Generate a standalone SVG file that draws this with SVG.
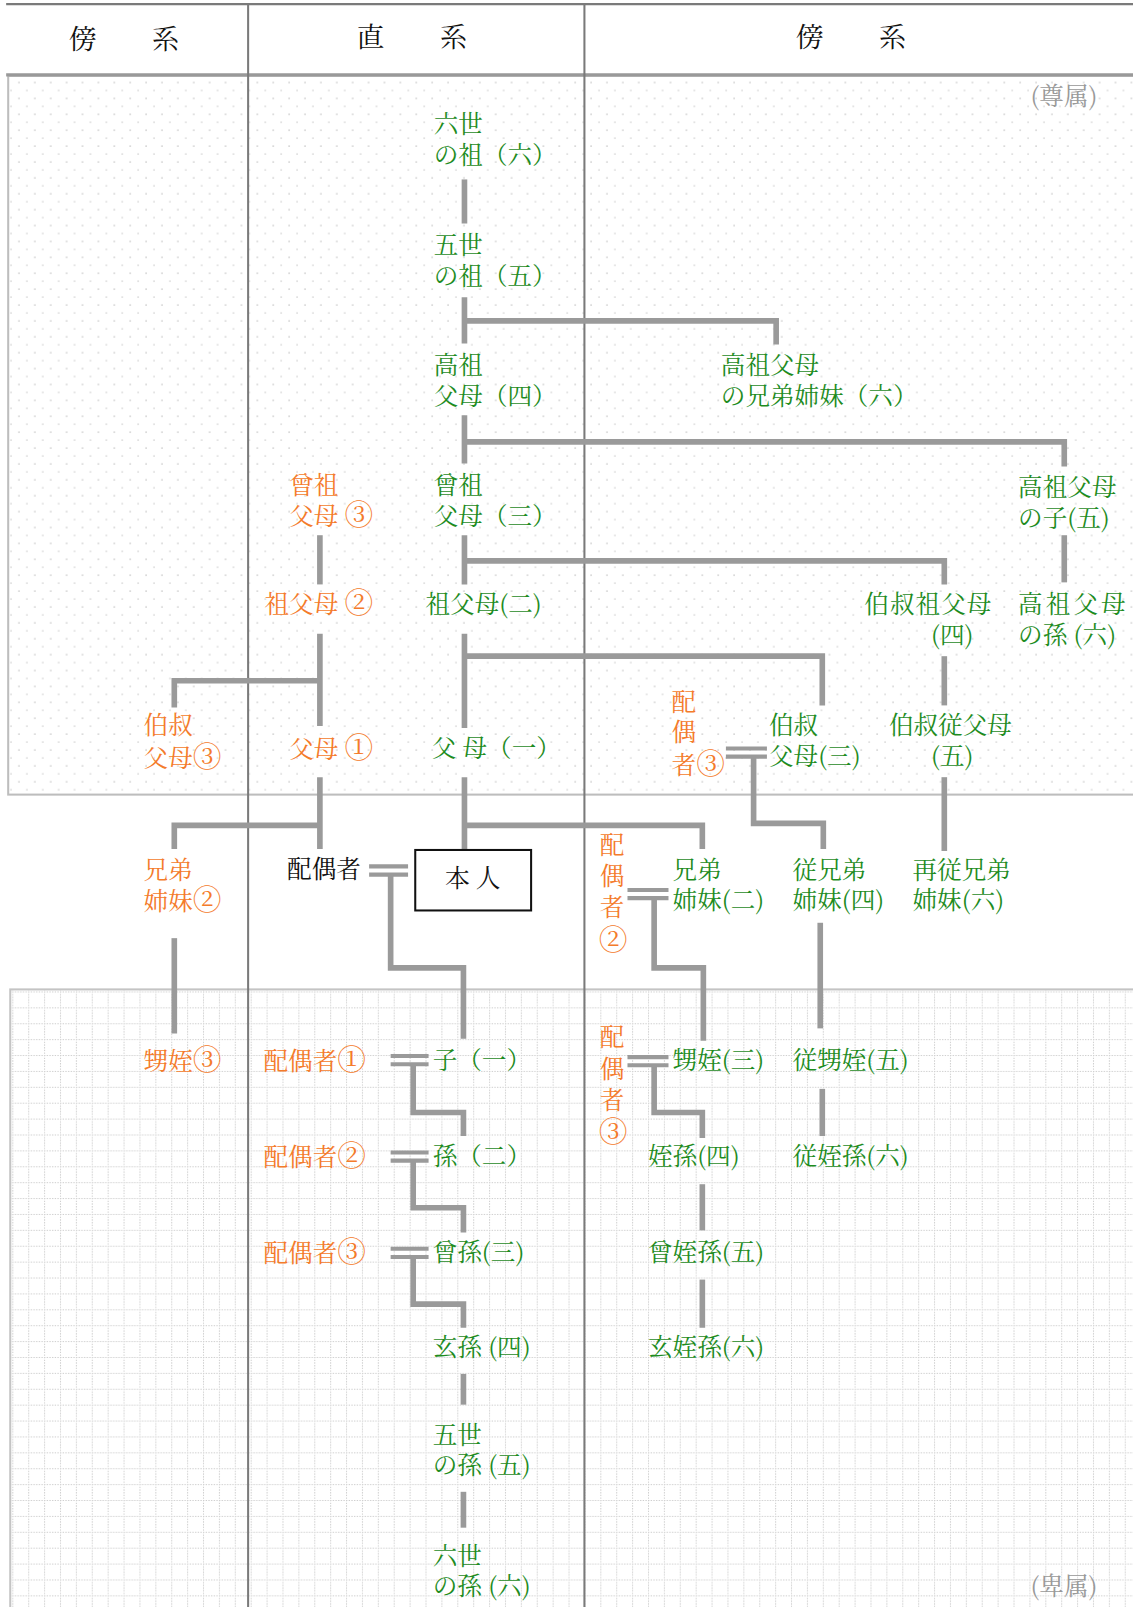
<svg xmlns="http://www.w3.org/2000/svg" width="1133" height="1607" viewBox="0 0 1133 1607">
<style>
text{font-family:"Noto Serif CJK JP","Noto Sans CJK JP",serif;font-size:24px}
.g{fill:#1e8c1e}
.o{fill:#f47b2b}
.k{fill:#111}
.h{font-size:27px;fill:#111}
.n{fill:#999}
.cn{font-size:28px}
.c{stroke:#9a9a9a;stroke-width:5.5;fill:none;stroke-linejoin:miter}
.d{stroke:#9a9a9a;stroke-width:4;fill:none}
.frame{stroke:#7a7a7a;stroke-width:2;fill:none}
</style>
<defs>
<pattern id="dots" width="15.5" height="15.5" patternUnits="userSpaceOnUse">
<circle cx="3" cy="3" r="0.9" fill="#cfcfcf"/>
<circle cx="10.75" cy="10.75" r="0.9" fill="#d8d8d8"/>
</pattern>
<pattern id="grid" width="15.5" height="15.5" patternUnits="userSpaceOnUse" x="12" y="967">
<path d="M0,0.5H15.5M0.5,0V15.5" stroke="#cdcdcd" stroke-width="1" stroke-dasharray="1.3 1.3" fill="none"/>
</pattern>
</defs>
<rect width="1133" height="1607" fill="#fff"/>
<g transform="scale(1.0253)">
<g id="background">
<rect x="8" y="74" width="1135" height="701" fill="url(#dots)" stroke="#bdbdbd" stroke-width="2"/>
<rect x="10" y="965" width="1135" height="660" fill="url(#grid)" stroke="#c4c4c4" stroke-width="2"/>
<line x1="6" y1="4" x2="1133" y2="4" class="frame"/>
<line x1="6" y1="73" x2="1133" y2="73" stroke="#999" stroke-width="3"/>
<line x1="242" y1="4" x2="242" y2="1607" class="frame"/>
<line x1="570" y1="4" x2="570" y2="1607" class="frame"/>
</g>
<g id="header">
<text x="67" y="48" class="h">傍　　系</text>
<text x="348" y="46" class="h">直　　系</text>
<text x="776" y="46" class="h">傍　　系</text>
<text x="1005" y="102" class="n">(尊属)</text>
<text x="1005" y="1556" class="n">(卑属)</text>
</g>
<g id="connectors">
<path class="c" d="M453,175V218"/>
<path class="c" d="M453,290V335M453,313H757V336"/>
<path class="c" d="M453,405V452M453,431H1038V455"/>
<path class="c" d="M1038,522V568"/>
<path class="c" d="M453,522V570M453,547H921V570"/>
<path class="c" d="M921,640V688"/>
<path class="c" d="M921,758V830"/>
<path class="c" d="M453,618V710M453,640H802V688"/>
<path class="d" d="M708,730H748M708,738H748"/>
<path class="c" d="M735,738V803H803V828"/>
<path class="c" d="M800,900V1003"/>
<path class="c" d="M802,1062V1108"/>
<path class="c" d="M453,758V829M453,805H685V828"/>
<path class="d" d="M360,845H398M360,853H398"/>
<path class="c" d="M381,853V944H452V1013"/>
<path class="d" d="M612,868H652M612,876H652"/>
<path class="c" d="M638,876V944H686V1015"/>
<path class="d" d="M612,1031H652M612,1039H652"/>
<path class="c" d="M638,1039V1085H685V1110"/>
<path class="c" d="M685,1155V1200"/>
<path class="c" d="M685,1248V1295"/>
<path class="c" d="M312,522V570"/>
<path class="c" d="M312,618V708M170,690V664H312"/>
<path class="c" d="M312,758V828M170,828V805H312"/>
<path class="c" d="M170,915V1008"/>
<path class="d" d="M381,1030H418M381,1038H418"/>
<path class="c" d="M403,1038V1085H452V1108"/>
<path class="d" d="M381,1124H418M381,1132H418"/>
<path class="c" d="M403,1132V1178H452V1202"/>
<path class="d" d="M381,1218H418M381,1226H418"/>
<path class="c" d="M403,1226V1272H452V1295"/>
<path class="c" d="M452,1340V1370"/>
<path class="c" d="M452,1455V1490"/>
</g>
<g id="n-rokusei-so"><text x="423" y="130" class="g">六世</text><text x="423" y="160" class="g">の祖（六）</text></g>
<g id="n-gosei-so"><text x="423" y="248" class="g">五世</text><text x="423" y="278" class="g">の祖（五）</text></g>
<g id="n-koso"><text x="423" y="365" class="g">高祖</text><text x="423" y="395" class="g">父母（四）</text></g>
<g id="n-koso-kyodai"><text x="703" y="365" class="g">高祖父母</text><text x="703" y="395" class="g">の兄弟姉妹（六）</text></g>
<g id="n-soso"><text x="423" y="482" class="g">曾祖</text><text x="423" y="512" class="g">父母（三）</text></g>
<g id="n-koso-ko"><text x="993" y="484" class="g">高祖父母</text><text x="993" y="514" class="g">の子(五)</text></g>
<g id="n-sofubo"><text x="415" y="598" class="g">祖父母(二)</text></g>
<g id="n-hakushuku-sofubo"><text x="843" y="598" class="g" letter-spacing="1">伯叔祖父母</text><text x="908" y="628" class="g">(四)</text></g>
<g id="n-koso-mago"><text x="993" y="598" class="g" letter-spacing="3">高祖父母</text><text x="993" y="628" class="g">の孫 (六)</text></g>
<g id="n-hakushuku"><text x="750" y="716" class="g">伯叔</text><text x="750" y="746" class="g">父母(三)</text></g>
<g id="n-hakushuku-ju"><text x="867" y="716" class="g">伯叔従父母</text><text x="908" y="746" class="g">(五)</text></g>
<g id="n-fubo"><text x="421" y="738" class="g">父 母（一）</text></g>
<g id="n-kyodai"><text x="656" y="857" class="g">兄弟</text><text x="656" y="887" class="g">姉妹(二)</text></g>
<g id="n-itoko"><text x="773" y="857" class="g">従兄弟</text><text x="773" y="887" class="g">姉妹(四)</text></g>
<g id="n-hatoko"><text x="890" y="857" class="g">再従兄弟</text><text x="890" y="887" class="g">姉妹(六)</text></g>
<g id="n-oimei"><text x="656" y="1043" class="g">甥姪(三)</text></g>
<g id="n-ju-oimei"><text x="773" y="1043" class="g">従甥姪(五)</text></g>
<g id="n-tetsuson"><text x="632" y="1136" class="g">姪孫(四)</text></g>
<g id="n-ju-tetsuson"><text x="773" y="1136" class="g">従姪孫(六)</text></g>
<g id="n-so-tetsuson"><text x="632" y="1230" class="g">曾姪孫(五)</text></g>
<g id="n-gen-tetsuson"><text x="632" y="1323" class="g">玄姪孫(六)</text></g>
<g id="n-ko"><text x="422" y="1043" class="g">子（一）</text></g>
<g id="n-mago"><text x="422" y="1136" class="g">孫（二）</text></g>
<g id="n-himago"><text x="422" y="1230" class="g">曾孫(三)</text></g>
<g id="n-genson"><text x="422" y="1323" class="g">玄孫 (四)</text></g>
<g id="n-gosei-son"><text x="422" y="1408" class="g">五世</text><text x="422" y="1438" class="g">の孫 (五)</text></g>
<g id="n-rokusei-son"><text x="422" y="1526" class="g">六世</text><text x="422" y="1556" class="g">の孫 (六)</text></g>
<g id="n-soso-o"><text x="282" y="482" class="o">曾祖</text><text x="282" y="512" class="o">父母 <tspan class="cn">③</tspan></text></g>
<g id="n-sofubo-o"><text x="258" y="598" class="o">祖父母 <tspan class="cn">②</tspan></text></g>
<g id="n-hakushuku-o"><text x="140" y="716" class="o">伯叔</text><text x="140" y="748" class="o">父母<tspan class="cn">③</tspan></text></g>
<g id="n-fubo-o"><text x="282" y="739" class="o">父母 <tspan class="cn">①</tspan></text></g>
<g id="n-kyodai-o"><text x="140" y="857" class="o">兄弟</text><text x="140" y="888" class="o">姉妹<tspan class="cn">②</tspan></text></g>
<g id="n-oimei-o"><text x="140" y="1044" class="o">甥姪<tspan class="cn">③</tspan></text></g>
<g id="n-spouse1"><text x="257" y="1044" class="o">配偶者<tspan class="cn">①</tspan></text></g>
<g id="n-spouse2"><text x="257" y="1137" class="o">配偶者<tspan class="cn">②</tspan></text></g>
<g id="n-spouse3"><text x="257" y="1231" class="o">配偶者<tspan class="cn">③</tspan></text></g>
<g id="n-spouse-hakushuku"><text x="655" y="693" class="o">配</text><text x="655" y="723" class="o">偶</text><text x="655" y="755" class="o">者<tspan class="cn">③</tspan></text></g>
<g id="n-spouse-kyodai"><text x="585" y="833" class="o">配</text><text x="585" y="863" class="o">偶</text><text x="585" y="893" class="o">者</text><text x="584" y="927" class="o cn">②</text></g>
<g id="n-spouse-oimei"><text x="585" y="1020" class="o">配</text><text x="585" y="1051" class="o">偶</text><text x="585" y="1082" class="o">者</text><text x="584" y="1114" class="o cn">③</text></g>
<g id="n-haigusha"><text x="280" y="856" class="k">配偶者</text></g>
<g id="n-honnin"><rect x="405" y="829" width="113" height="59" fill="#fff" stroke="#111" stroke-width="2"/><text x="461" y="865" class="k" text-anchor="middle">本 人</text></g>
</g>
</svg>
